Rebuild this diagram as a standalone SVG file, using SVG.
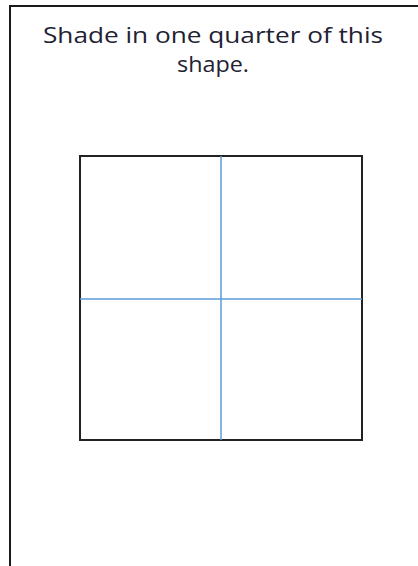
<svg xmlns="http://www.w3.org/2000/svg" width="418" height="566" viewBox="0 0 418 566">
<style>
.frame{fill:none;stroke:#1a1a1a;stroke-width:2}
.sq{fill:#ffffff;stroke:#222222;stroke-width:2}
.div{stroke:#5b9bd5;stroke-width:1.5}
.t{font-family:"Open Sans","Noto Sans",sans-serif;font-size:22px;fill:#222233;text-anchor:middle}
</style>
<rect width="418" height="566" fill="#ffffff"/>
<path class="frame" d="M10,566 V6 H418"/>
<g id="title">
<text class="t" x="213" y="43" textLength="340" lengthAdjust="spacingAndGlyphs">Shade in one quarter of this</text>
<text class="t" x="213" y="72" textLength="72" lengthAdjust="spacingAndGlyphs">shape.</text>
</g>
<g id="square">
<rect class="sq" x="80" y="156" width="282" height="284"/>
</g>
<g id="connectors">
<line class="div" x1="221" y1="156" x2="221" y2="440"/>
<line class="div" x1="80" y1="299" x2="362" y2="299"/>
</g>
</svg>
